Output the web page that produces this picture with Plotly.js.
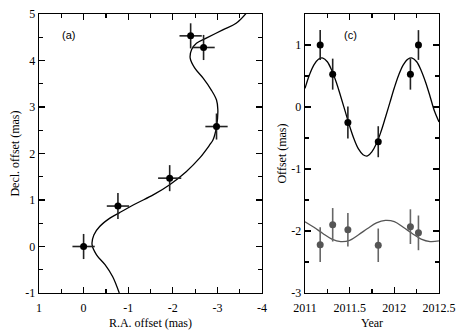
<!DOCTYPE html>
<html>
<head>
<meta charset="utf-8">
<script src="https://cdn.plot.ly/plotly-3.0.1.min.js"></script>
<style>html,body{margin:0;padding:0;background:#fff;}#plot{width:466px;height:334px;}</style>
</head>
<body>
<div id="plot"></div>
<script>
// Panel (a): sky positions
const raObs = [0, -0.77, -1.93, -2.98, -2.40, -2.69];
const decObs = [0, 0.87, 1.47, 2.58, 4.53, 4.28];
const raErr = [0.25, 0.25, 0.26, 0.25, 0.25, 0.25];
const decErr = [0.27, 0.28, 0.28, 0.28, 0.27, 0.27];
// Panel (a): model track
const raFit = [-0.80, -0.65, -0.48, -0.29, -0.19, -0.23, -0.36, -0.59, -0.81, -1.19, -1.56, -1.93, -2.30, -2.60, -2.83, -2.90, -2.98, -3.01, -2.98, -2.86, -2.68, -2.49, -2.39, -2.42, -2.53, -2.75, -3.12, -3.42, -3.65];
const decFit = [-1.0, -0.645, -0.39, -0.18, 0.04, 0.25, 0.43, 0.61, 0.73, 0.93, 1.11, 1.33, 1.61, 1.90, 2.19, 2.29, 2.58, 2.94, 3.15, 3.37, 3.62, 3.84, 4.05, 4.23, 4.37, 4.48, 4.66, 4.80, 5.02];
// Panel (c): parallax offsets vs time
const years = [2011.17, 2011.31, 2011.48, 2011.82, 2012.18, 2012.27];
const offTop = [1.00, 0.53, -0.25, -0.56, 0.53, 1.00];
const errTop = [0.24, 0.25, 0.26, 0.25, 0.25, 0.24];
const offBot = [-2.22, -1.90, -1.98, -2.23, -1.93, -2.03];
const errBot = [0.28, 0.27, 0.27, 0.27, 0.28, 0.28];
const fitYears = [2011.0, 2011.05, 2011.1, 2011.15, 2011.2, 2011.25, 2011.3, 2011.35, 2011.4, 2011.45, 2011.5, 2011.55, 2011.6, 2011.65, 2011.7, 2011.75, 2011.8, 2011.85, 2011.9, 2011.95, 2012.0, 2012.05, 2012.1, 2012.15, 2012.2, 2012.25, 2012.3, 2012.35, 2012.4, 2012.45, 2012.5];
const fitTop = [0.30, 0.52, 0.68, 0.77, 0.79, 0.73, 0.59, 0.40, 0.17, -0.07, -0.31, -0.52, -0.68, -0.77, -0.79, -0.72, -0.59, -0.40, -0.17, 0.07, 0.31, 0.52, 0.68, 0.77, 0.79, 0.73, 0.59, 0.40, 0.17, -0.07, -0.24];
const fitBotYears = [2011.0, 2011.1, 2011.2, 2011.3, 2011.4, 2011.5, 2011.6, 2011.7, 2011.8, 2011.9, 2012.0, 2012.1, 2012.2, 2012.3, 2012.4, 2012.5];
const fitBot = [-1.85, -1.94, -2.04, -2.13, -2.17, -2.15, -2.06, -1.96, -1.87, -1.83, -1.85, -1.94, -2.04, -2.13, -2.17, -2.16];
// Tick labels
const xTicksA = [1, 0, -1, -2, -3, -4];
const xTickTextA = ['1', '0', '-1', '-2', '-3', '-4'];
const yTicksA = [-1, 0, 1, 2, 3, 4, 5];
const yTickTextA = ['-1', '0', '1', '2', '3', '4', '5'];
const xTicksC = [2011, 2011.5, 2012, 2012.5];
const xTickTextC = ['2011', '2011.5', '2012', '2012.5'];
const yTicksC = [-3, -2, -1, 0, 1];
const yTickTextC = ['-3', '-2', '-1', '0', '1'];

const serif = 'Liberation Serif, Times New Roman, serif';
const traces = [
  {x: raFit, y: decFit, xaxis: 'x', yaxis: 'y', mode: 'lines', line: {color: '#000', width: 1.3, shape: 'spline'}, hoverinfo: 'none'},
  {x: raObs, y: decObs, xaxis: 'x', yaxis: 'y', mode: 'markers',
   marker: {color: '#000', size: 7},
   error_x: {type: 'data', array: raErr, color: '#222', thickness: 1.6, width: 0},
   error_y: {type: 'data', array: decErr, color: '#222', thickness: 1.6, width: 0}},
  {x: fitYears, y: fitTop, xaxis: 'x2', yaxis: 'y2', mode: 'lines', line: {color: '#000', width: 1.3, shape: 'spline'}},
  {x: fitBotYears, y: fitBot, xaxis: 'x2', yaxis: 'y2', mode: 'lines', line: {color: '#555', width: 1.3, shape: 'spline'}},
  {x: years, y: offTop, xaxis: 'x2', yaxis: 'y2', mode: 'markers', marker: {color: '#000', size: 7},
   error_y: {type: 'data', array: errTop, color: '#222', thickness: 1.6, width: 0}},
  {x: years, y: offBot, xaxis: 'x2', yaxis: 'y2', mode: 'markers', marker: {color: '#555', size: 7},
   error_y: {type: 'data', array: errBot, color: '#666', thickness: 1.6, width: 0}}
];

const axBase = {
  showgrid: false, zeroline: false, showline: true, linecolor: '#000', linewidth: 1.3,
  mirror: 'allticks', ticks: 'inside', ticklen: 6, tickcolor: '#000', tickwidth: 1.2,
  tickfont: {family: serif, size: 12, color: '#000'}, tickmode: 'array'
};

const layout = {
  width: 466, height: 334,
  margin: {l: 39, r: 27, t: 14, b: 41},
  paper_bgcolor: '#fff', plot_bgcolor: '#fff',
  showlegend: false,
  font: {family: serif, size: 12, color: '#000'},
  xaxis: Object.assign({}, axBase, {domain: [0, 0.5575], range: [1, -4], tickvals: xTicksA, ticktext: xTickTextA,
    ticklabelstandoff: 3,
    minor: {dtick: 0.5, tick0: 0, ticks: 'inside', ticklen: 4, tickcolor: '#000'},
    title: {text: 'R.A. offset (mas)', font: {family: serif, size: 12}, standoff: 5}, anchor: 'y'}),
  yaxis: Object.assign({}, axBase, {domain: [0, 1], range: [-1, 5], tickvals: yTicksA, ticktext: yTickTextA,
    minor: {dtick: 0.5, tick0: 0, ticks: 'inside', ticklen: 4, tickcolor: '#000'},
    title: {text: 'Decl. offset (mas)', font: {family: serif, size: 12}, standoff: 3}, anchor: 'x'}),
  xaxis2: Object.assign({}, axBase, {domain: [0.665, 1], range: [2011, 2012.5], tickvals: xTicksC, ticktext: xTickTextC,
    ticklabelstandoff: 3,
    minor: {dtick: 0.25, tick0: 2011, ticks: 'inside', ticklen: 4, tickcolor: '#000'},
    title: {text: 'Year', font: {family: serif, size: 12}, standoff: 5}, anchor: 'y2'}),
  yaxis2: Object.assign({}, axBase, {domain: [0, 1], range: [-3, 1.5], tickvals: yTicksC, ticktext: yTickTextC,
    minor: {dtick: 0.5, tick0: 0, ticks: 'inside', ticklen: 4, tickcolor: '#000'},
    title: {text: 'Offset (mas)', font: {family: serif, size: 12}, standoff: 2}, anchor: 'x2'}),
  annotations: [
    {text: '(a)', xref: 'x domain', yref: 'y domain', x: 0.096, y: 0.952, showarrow: false,
     font: {family: 'Liberation Sans, Arial, sans-serif', size: 11, color: '#000'}},
    {text: '(c)', xref: 'x2 domain', yref: 'y2 domain', x: 0.278, y: 0.952, showarrow: false,
     font: {family: 'Liberation Sans, Arial, sans-serif', size: 11, color: '#000'}}
  ]
};

Plotly.newPlot('plot', traces, layout, {displayModeBar: false, staticPlot: true});
</script>
</body>
</html>
